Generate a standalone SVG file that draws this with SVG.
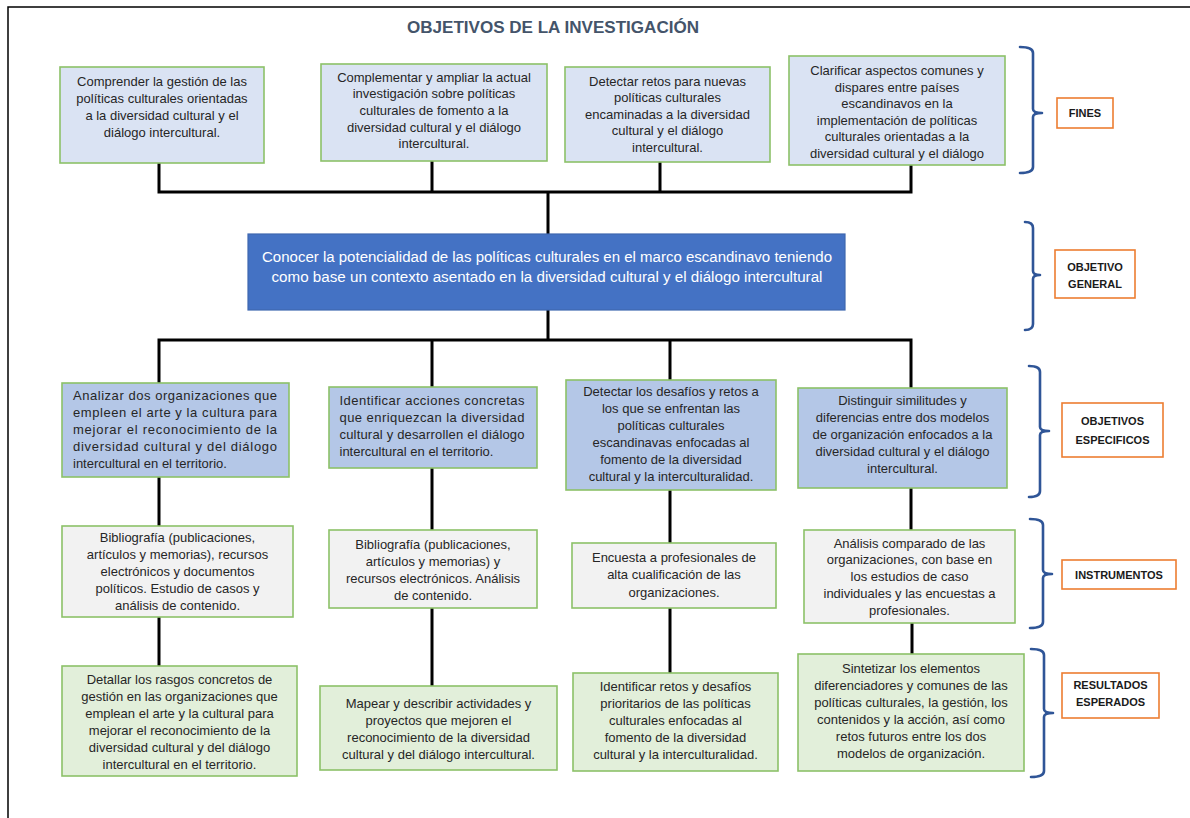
<svg xmlns="http://www.w3.org/2000/svg" width="1190" height="818" viewBox="0 0 1190 818">
  <style>
    .frame { fill: none; stroke: #000; stroke-width: 1.5; }
    .title { font-family: "Liberation Sans", Arial, sans-serif; font-weight: bold; font-size: 17px; fill: #44546A; text-anchor: middle; }
    .box { stroke: #8CC168; stroke-width: 1.6; }
    .fin { fill: #DAE3F3; }
    .gen { fill: #4472C4; stroke: #3F68B0; stroke-width: 1.2; }
    .esp { fill: #B4C7E7; }
    .ins { fill: #F2F2F2; }
    .res { fill: #E2EFDA; }
    .t { font-family: "Liberation Sans", Arial, sans-serif; font-size: 13px; fill: #262626; text-anchor: middle; }
    .tl { font-family: "Liberation Sans", Arial, sans-serif; font-size: 13px; fill: #262626; text-anchor: start; }
    .tg { font-family: "Liberation Sans", Arial, sans-serif; font-size: 14px; fill: #FFFFFF; text-anchor: middle; }
    .lab { fill: #FFFFFF; stroke: #ED7D31; stroke-width: 1.6; }
    .lt { font-family: "Liberation Sans", Arial, sans-serif; font-weight: bold; font-size: 11px; fill: #1A1A1A; text-anchor: middle; }
    .brace { fill: none; stroke: #2F5597; stroke-width: 2.6; stroke-linejoin: round; stroke-linecap: round; }
    .conn { fill: none; stroke: #000; stroke-width: 3; stroke-linecap: square; }
  </style>

  <!-- page frame -->
  <path class="frame" d="M8,818 V7 H1190"/>

  <text class="title" x="553" y="33" textLength="292" lengthAdjust="spacingAndGlyphs">OBJETIVOS DE LA INVESTIGACIÓN</text>

  <!-- connectors -->
  <g id="connectors">
    <path class="conn" d="M159,164 V192 M432,162 V192 M660,163 V192 M911,166 V192 M159,192 H911 M548,192 V233"/>
    <path class="conn" d="M548,311 V340 M159,340 H911 M159,340 V382 M432,340 V386 M670,340 V379 M911,340 V387"/>
    <path class="conn" d="M159,478 V525 M159,618 V665"/>
    <path class="conn" d="M432,469 V529 M432,609 V685"/>
    <path class="conn" d="M670,491 V542 M670,609 V672"/>
    <path class="conn" d="M911,489 V529 M912,624 V653"/>
  </g>

  <!-- FINES row -->
  <g id="fin1">
    <rect class="box fin" x="60" y="67" width="204" height="96"/>
    <text class="t"><tspan x="162" y="85.5">Comprender la gestión de las</tspan><tspan x="162" y="102.5">políticas culturales orientadas</tspan><tspan x="162" y="119.5">a la diversidad cultural y el</tspan><tspan x="162" y="136.5">diálogo intercultural.</tspan></text>
  </g>
  <g id="fin2">
    <rect class="box fin" x="321" y="64" width="226" height="97"/>
    <text class="t"><tspan x="434" y="81.5">Complementar y ampliar la actual</tspan><tspan x="434" y="98.2">investigación sobre políticas</tspan><tspan x="434" y="114.9">culturales de fomento a la</tspan><tspan x="434" y="131.6">diversidad cultural y el diálogo</tspan><tspan x="434" y="148.3">intercultural.</tspan></text>
  </g>
  <g id="fin3">
    <rect class="box fin" x="565" y="67" width="205" height="95"/>
    <text class="t"><tspan x="667.5" y="85.5">Detectar retos para nuevas</tspan><tspan x="667.5" y="102">políticas culturales</tspan><tspan x="667.5" y="118.5">encaminadas a la diversidad</tspan><tspan x="667.5" y="135">cultural y el diálogo</tspan><tspan x="667.5" y="151.5">intercultural.</tspan></text>
  </g>
  <g id="fin4">
    <rect class="box fin" x="789" y="56" width="216" height="109"/>
    <text class="t"><tspan x="897" y="75">Clarificar aspectos comunes y</tspan><tspan x="897" y="91.5">dispares entre países</tspan><tspan x="897" y="108">escandinavos en la</tspan><tspan x="897" y="124.5">implementación de políticas</tspan><tspan x="897" y="141">culturales orientadas a la</tspan><tspan x="897" y="157.5">diversidad cultural y el diálogo</tspan></text>
  </g>

  <!-- general objective -->
  <g id="general">
    <rect class="gen" x="248" y="234" width="597" height="76"/>
    <text class="tg"><tspan x="547" y="261.5" textLength="570" lengthAdjust="spacingAndGlyphs">Conocer la potencialidad de las políticas culturales en el marco escandinavo teniendo</tspan><tspan x="547" y="282" textLength="551" lengthAdjust="spacingAndGlyphs">como base un contexto asentado en la diversidad cultural y el diálogo intercultural</tspan></text>
  </g>

  <!-- specific objectives -->
  <g id="esp1">
    <rect class="box esp" x="62" y="383" width="227" height="94"/>
    <text class="tl"><tspan x="73" y="399.5" textLength="204" lengthAdjust="spacing">Analizar dos organizaciones que</tspan><tspan x="73" y="416.5" textLength="204" lengthAdjust="spacing">empleen el arte y la cultura para</tspan><tspan x="73" y="433.5" textLength="204" lengthAdjust="spacing">mejorar el reconocimiento de la</tspan><tspan x="73" y="450.5" textLength="204" lengthAdjust="spacing">diversidad cultural y del diálogo</tspan><tspan x="73" y="467.5">intercultural en el territorio.</tspan></text>
  </g>
  <g id="esp2">
    <rect class="box esp" x="329" y="387" width="208" height="81"/>
    <text class="tl"><tspan x="339.5" y="404.5" textLength="185" lengthAdjust="spacing">Identificar acciones concretas</tspan><tspan x="339.5" y="421.5" textLength="185" lengthAdjust="spacing">que enriquezcan la diversidad</tspan><tspan x="339.5" y="438.5" textLength="185" lengthAdjust="spacing">cultural y desarrollen el diálogo</tspan><tspan x="339.5" y="455.5">intercultural en el territorio.</tspan></text>
  </g>
  <g id="esp3">
    <rect class="box esp" x="566" y="380" width="210" height="110"/>
    <text class="t"><tspan x="671" y="395.5">Detectar los desafíos y retos a</tspan><tspan x="671" y="412.5">los que se enfrentan las</tspan><tspan x="671" y="429.5">políticas culturales</tspan><tspan x="671" y="446.5">escandinavas enfocadas al</tspan><tspan x="671" y="463.5">fomento de la diversidad</tspan><tspan x="671" y="480.5">cultural y la interculturalidad.</tspan></text>
  </g>
  <g id="esp4">
    <rect class="box esp" x="798" y="388" width="209" height="100"/>
    <text class="t"><tspan x="902.5" y="404.5">Distinguir similitudes y</tspan><tspan x="902.5" y="421.5">diferencias entre dos modelos</tspan><tspan x="902.5" y="438.5">de organización enfocados a la</tspan><tspan x="902.5" y="455.5">diversidad cultural y el diálogo</tspan><tspan x="902.5" y="472.5">intercultural.</tspan></text>
  </g>

  <!-- instruments -->
  <g id="ins1">
    <rect class="box ins" x="62" y="526" width="231" height="91"/>
    <text class="t"><tspan x="177.5" y="541.5">Bibliografía (publicaciones,</tspan><tspan x="177.5" y="558.5">artículos y memorias), recursos</tspan><tspan x="177.5" y="575.5">electrónicos y documentos</tspan><tspan x="177.5" y="592.5">políticos. Estudio de casos y</tspan><tspan x="177.5" y="609.5">análisis de contenido.</tspan></text>
  </g>
  <g id="ins2">
    <rect class="box ins" x="329" y="530" width="208" height="78"/>
    <text class="t"><tspan x="433" y="548.5">Bibliografía (publicaciones,</tspan><tspan x="433" y="565.5">artículos y memorias) y</tspan><tspan x="433" y="582.5">recursos electrónicos. Análisis</tspan><tspan x="433" y="599.5">de contenido.</tspan></text>
  </g>
  <g id="ins3">
    <rect class="box ins" x="572" y="543" width="204" height="65"/>
    <text class="t"><tspan x="674" y="561.5">Encuesta a profesionales de</tspan><tspan x="674" y="579">alta cualificación de las</tspan><tspan x="674" y="596.5">organizaciones.</tspan></text>
  </g>
  <g id="ins4">
    <rect class="box ins" x="804" y="530" width="211" height="93"/>
    <text class="t"><tspan x="909.5" y="547.5">Análisis comparado de las</tspan><tspan x="909.5" y="564.3">organizaciones, con base en</tspan><tspan x="909.5" y="581.1">los estudios de caso</tspan><tspan x="909.5" y="597.9">individuales y las encuestas a</tspan><tspan x="909.5" y="614.7">profesionales.</tspan></text>
  </g>

  <!-- expected results -->
  <g id="res1">
    <rect class="box res" x="62" y="666" width="235" height="110"/>
    <text class="t"><tspan x="179.5" y="683.5">Detallar los rasgos concretos de</tspan><tspan x="179.5" y="700.5">gestión en las organizaciones que</tspan><tspan x="179.5" y="717.5">emplean el arte y la cultural para</tspan><tspan x="179.5" y="734.5">mejorar el reconocimiento de la</tspan><tspan x="179.5" y="751.5">diversidad cultural y del diálogo</tspan><tspan x="179.5" y="768.5">intercultural en el territorio.</tspan></text>
  </g>
  <g id="res2">
    <rect class="box res" x="320" y="686" width="237" height="84"/>
    <text class="t"><tspan x="438.5" y="707.5">Mapear y describir actividades y</tspan><tspan x="438.5" y="724.5">proyectos que mejoren el</tspan><tspan x="438.5" y="741.5">reconocimiento de la diversidad</tspan><tspan x="438.5" y="758.5">cultural y del diálogo intercultural.</tspan></text>
  </g>
  <g id="res3">
    <rect class="box res" x="573" y="673" width="205" height="98"/>
    <text class="t"><tspan x="675.5" y="690.5">Identificar retos y desafíos</tspan><tspan x="675.5" y="707.5">prioritarios de las políticas</tspan><tspan x="675.5" y="724.5">culturales enfocadas al</tspan><tspan x="675.5" y="741.5">fomento de la diversidad</tspan><tspan x="675.5" y="758.5">cultural y la interculturalidad.</tspan></text>
  </g>
  <g id="res4">
    <rect class="box res" x="798" y="654" width="226" height="117"/>
    <text class="t"><tspan x="911" y="672.5">Sintetizar los elementos</tspan><tspan x="911" y="689.5">diferenciadores y comunes de las</tspan><tspan x="911" y="706.5">políticas culturales, la gestión, los</tspan><tspan x="911" y="723.5">contenidos y la acción, así como</tspan><tspan x="911" y="740.5">retos futuros entre los dos</tspan><tspan x="911" y="757.5">modelos de organización.</tspan></text>
  </g>

  <!-- level braces and labels -->
  <g id="lab-fines">
    <path class="brace" d="M1020,47 Q1033,47 1033,53 V109 Q1033,113 1042,113 Q1033,113 1033,117 V167 Q1033,173 1020,173"/>
    <rect class="lab" x="1057" y="98" width="56" height="30"/>
    <text class="lt" x="1085" y="117">FINES</text>
  </g>
  <g id="lab-general">
    <path class="brace" d="M1025,222 Q1033,222 1033,228 V271 Q1033,275 1040,275 Q1033,275 1033,279 V324 Q1033,330 1025,330"/>
    <rect class="lab" x="1055" y="250" width="80" height="48"/>
    <text class="lt"><tspan x="1095" y="271">OBJETIVO</tspan><tspan x="1095" y="288">GENERAL</tspan></text>
  </g>
  <g id="lab-especificos">
    <path class="brace" d="M1029,366 Q1040,366 1040,372 V427 Q1040,431 1049,431 Q1040,431 1040,435 V491 Q1040,497 1029,497"/>
    <rect class="lab" x="1062" y="403" width="101" height="54"/>
    <text class="lt"><tspan x="1112.5" y="425">OBJETIVOS</tspan><tspan x="1112.5" y="444">ESPECIFICOS</tspan></text>
  </g>
  <g id="lab-instrumentos">
    <path class="brace" d="M1030,519 Q1043,519 1043,525 V570 Q1043,574 1052,574 Q1043,574 1043,578 V622 Q1043,628 1030,628"/>
    <rect class="lab" x="1062" y="560" width="114" height="29"/>
    <text class="lt" x="1119" y="578.5">INSTRUMENTOS</text>
  </g>
  <g id="lab-resultados">
    <path class="brace" d="M1031,649 Q1044,649 1044,655 V709 Q1044,713 1053,713 Q1044,713 1044,717 V771 Q1044,777 1031,777"/>
    <rect class="lab" x="1062" y="673" width="97" height="45"/>
    <text class="lt"><tspan x="1110.5" y="689">RESULTADOS</tspan><tspan x="1110.5" y="706">ESPERADOS</tspan></text>
  </g>
</svg>
